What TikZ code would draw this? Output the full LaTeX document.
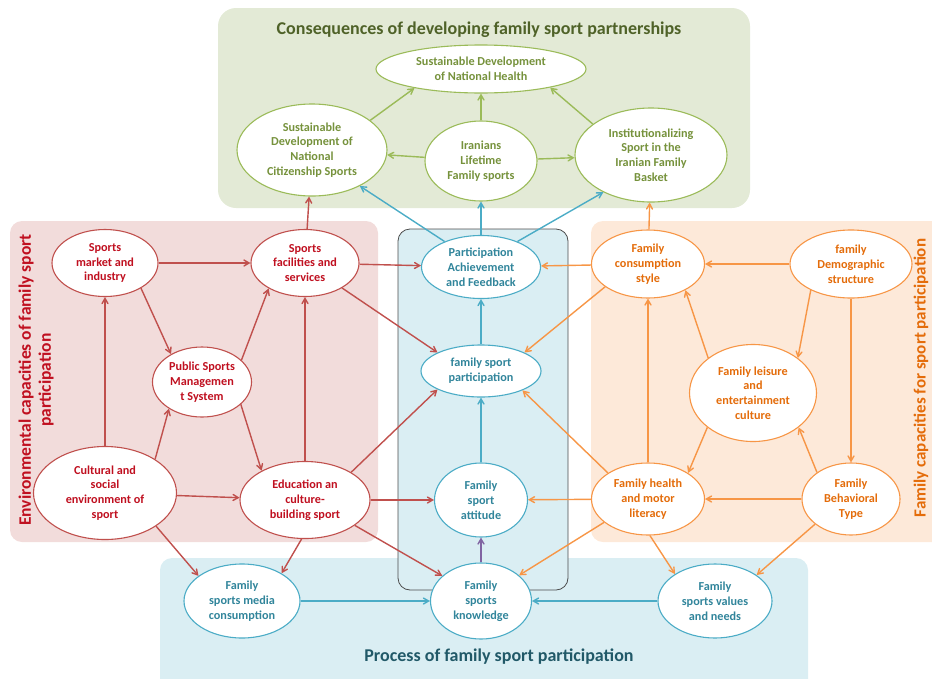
\documentclass[tikz,border=0pt]{standalone}
\usepackage{fontspec}
\setmainfont{Carlito}
\usepackage{tikz}
\usetikzlibrary{shapes,arrows}
\definecolor{ofGreen}{RGB}{155,187,89}
\definecolor{ofGreenText}{RGB}{118,146,60}
\definecolor{ofGreenDark}{RGB}{79,98,40}
\definecolor{ofGreenBg}{RGB}{227,234,214}
\definecolor{ofRed}{RGB}{192,80,77}
\definecolor{ofRedText}{RGB}{192,16,32}
\definecolor{ofRedBg}{RGB}{242,220,219}
\definecolor{ofOrange}{RGB}{247,150,70}
\definecolor{ofOrangeText}{RGB}{228,108,10}
\definecolor{ofOrangeBg}{RGB}{253,233,217}
\definecolor{ofBlue}{RGB}{75,172,198}
\definecolor{ofBlueText}{RGB}{49,133,155}
\definecolor{ofBlueDark}{RGB}{33,89,104}
\definecolor{ofBlueBg}{RGB}{218,238,243}
\definecolor{ofPurple}{RGB}{128,100,162}

\begin{document}
\begin{tikzpicture}[x=1pt, y=-1pt]%
  \tikzset{normal arrow/.style={draw,-angle 60,line width=1.4pt},
    garrow/.style={normal arrow,ofGreen},
    rarrow/.style={normal arrow,ofRed},
    oarrow/.style={normal arrow,ofOrange},
    barrow/.style={normal arrow,ofBlue},
    parrow/.style={normal arrow,ofPurple}}
  \tikzstyle{every node}=[font=\bfseries\fontsize{12.2}{14.8}\selectfont, align=center]
  \tikzstyle{box}=[ellipse, draw, fill=white, line width=1.1pt, inner sep=0pt]
  \tikzstyle{gbox}=[box, draw=ofGreen, text=ofGreenText]
  \tikzstyle{rbox}=[box, draw=ofRed, text=ofRedText]
  \tikzstyle{obox}=[box, draw=ofOrange, text=ofOrangeText]
  \tikzstyle{bbox}=[box, draw=ofBlue, text=ofBlueText]
  \tikzstyle{title}=[font=\bfseries\fontsize{18}{20}\selectfont]

  \useasboundingbox (0,0) rectangle (932,678);

  % background panels
  \fill[ofGreenBg, rounded corners=18pt] (218,8) rectangle (750,208);
  \fill[ofRedBg, rounded corners=12pt] (10,221) rectangle (378,542);
  \fill[ofOrangeBg, rounded corners=12pt] (591,221) rectangle (950,542);
  \fill[ofBlueBg, rounded corners=12pt] (160,558) rectangle (808,695);
  \draw[fill=ofBlueBg, draw=black!70, line width=0.8pt, rounded corners=12pt] (398,229) rectangle (568,590);

  \node[title, text=ofGreenDark] at (479,30) (consTitle) {Consequences of developing family sport partnerships};
  \node[title, text=ofBlueDark] at (499,657) (procTitle) {Process of family sport participation};
  \node[title, text=ofRedText, rotate=90, font=\bfseries\fontsize{17.5}{20}\selectfont] at (36,380) (envTitle) {Environmental capacities of family sport\\participation};
  \node[title, text=ofOrangeText, rotate=90, font=\bfseries\fontsize{17}{20}\selectfont, inner sep=0pt] at (921,378) (famTitle) {Family capacities for sport participation};

  % consequences
  \node[gbox, minimum width=210pt, minimum height=48pt] at (481,69) (nathealth) {Sustainable Development\\of National Health};
  \node[gbox, minimum width=150pt, minimum height=92pt] at (312,150) (citizen) {Sustainable\\Development of\\National\\Citizenship Sports};
  \node[gbox, minimum width=112pt, minimum height=80pt] at (481,161) (lifetime) {Iranians\\Lifetime\\Family sports};
  \node[gbox, minimum width=152pt, minimum height=94pt] at (651,155) (basket) {Institutionalizing\\Sport in the\\Iranian Family\\Basket};

  % environmental capacities
  \node[rbox, minimum width=106pt, minimum height=67pt] at (105,263) (market) {Sports\\market and\\industry};
  \node[rbox, minimum width=108pt, minimum height=67pt] at (305,263) (facilities) {Sports\\facilities and\\services};
  \node[rbox, minimum width=99pt, minimum height=70pt] at (202,382) (mgmt) {Public Sports\\Managemen\\t System};
  \node[rbox, minimum width=143pt, minimum height=93pt] at (105,493) (cultural) {Cultural and\\social\\environment of\\sport};
  \node[rbox, minimum width=130pt, minimum height=77pt] at (305,500) (education) {Education an\\culture-\\building sport};

  % participation process
  \node[bbox, minimum width=119pt, minimum height=63pt] at (481,267) (feedback) {Participation\\Achievement\\and Feedback};
  \node[bbox, minimum width=120pt, minimum height=52pt] at (481,371) (particip) {family sport\\participation};
  \node[bbox, minimum width=93pt, minimum height=74pt] at (481,500) (attitude) {Family\\sport\\attitude};
  \node[bbox, minimum width=101pt, minimum height=76pt] at (481,601) (knowledge) {Family\\sports\\knowledge};
  \node[bbox, minimum width=116pt, minimum height=74pt] at (242,601) (media) {Family\\sports media\\consumption};
  \node[bbox, minimum width=114pt, minimum height=74pt] at (715,601) (values) {Family\\sports values\\and needs};

  % family capacities
  \node[obox, minimum width=113pt, minimum height=68pt] at (648,264) (consumption) {Family\\consumption\\style};
  \node[obox, minimum width=122pt, minimum height=68pt] at (851,264) (demographic) {family\\Demographic\\structure};
  \node[obox, minimum width=127pt, minimum height=97pt] at (753,393) (leisure) {Family leisure\\and\\entertainment\\culture};
  \node[obox, minimum width=113pt, minimum height=72pt] at (648,499) (motor) {Family health\\and motor\\literacy};
  \node[obox, minimum width=98pt, minimum height=72pt] at (851,499) (behavior) {Family\\Behavioral\\Type};

  % green links
  \path[garrow] (citizen.27) -- (nathealth.196);
  \path[garrow] (lifetime) -- (nathealth);
  \path[garrow] (basket.152) -- (nathealth.345);
  \path[garrow] (lifetime) -- (citizen);
  \path[garrow] (lifetime) -- (basket);

  % into the consequences
  \path[barrow] (feedback.145) -- (citizen.323);
  \path[barrow] (feedback) -- (lifetime);
  \path[barrow] (feedback.35) -- (basket.218);
  \path[rarrow] (facilities) -- (citizen);
  \path[oarrow] (consumption) -- (basket);

  % red links
  \path[rarrow] (market) -- (facilities);
  \path[rarrow] (market.325) -- (mgmt.138);
  \path[rarrow] (cultural) -- (market);
  \path[rarrow] (cultural.34) -- (mgmt.219);
  \path[rarrow] (cultural) -- (education);
  \path[rarrow] (mgmt.29) -- (facilities.215);
  \path[rarrow] (mgmt.330) -- (education.146);
  \path[rarrow] (education) -- (facilities);
  \path[rarrow] (facilities) -- (feedback);
  \path[rarrow] (facilities.326) -- (particip.157);
  \path[rarrow] (education.31) -- (particip.203);
  \path[rarrow] (education) -- (attitude);
  \path[rarrow] (education.333) -- (knowledge.147);
  \path[rarrow] (education.265) -- (media.35);
  \path[rarrow] (cultural.327) -- (media.150);

  % process links
  \path[barrow] (particip) -- (feedback);
  \path[barrow] (attitude) -- (particip);
  \path[parrow] (knowledge) -- (attitude);
  \path[barrow] (media) -- (knowledge);
  \path[barrow] (values) -- (knowledge);

  % orange links
  \path[oarrow] (demographic) -- (consumption);
  \path[oarrow] (demographic.213) -- (leisure.38);
  \path[oarrow] (demographic) -- (behavior);
  \path[oarrow] (leisure.142) -- (consumption.325);
  \path[oarrow] (leisure.217) -- (motor.33);
  \path[oarrow] (behavior.142) -- (leisure.323);
  \path[oarrow] (behavior) -- (motor);
  \path[oarrow] (motor) -- (consumption);
  \path[oarrow] (consumption) -- (feedback);
  \path[oarrow] (consumption.208) -- (particip.23);
  \path[oarrow] (motor.147) -- (particip.335);
  \path[oarrow] (motor) -- (attitude);
  \path[oarrow] (motor.208) -- (knowledge.34);
  \path[oarrow] (motor.273) -- (values.146);
  \path[oarrow] (behavior.215) -- (values.32);
\end{tikzpicture}
\end{document}
